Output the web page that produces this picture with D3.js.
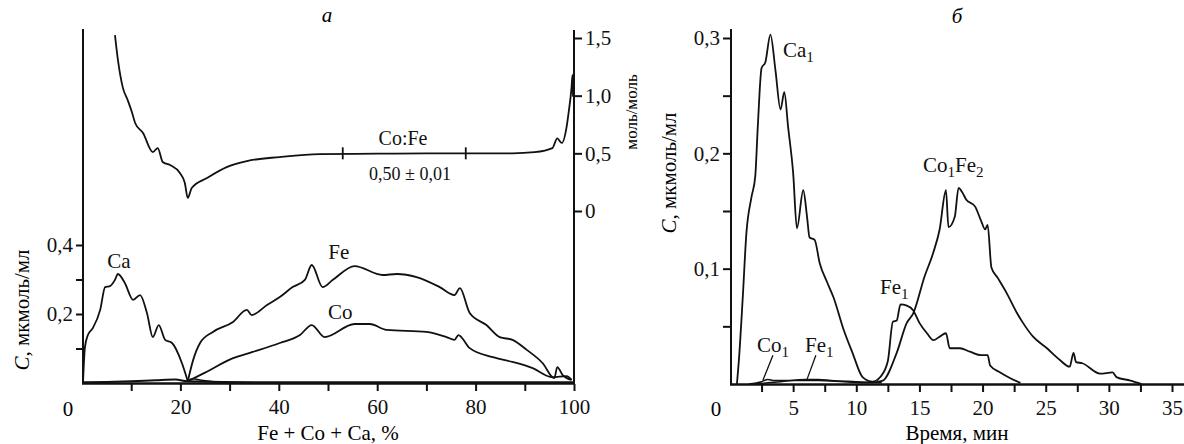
<!DOCTYPE html>
<html>
<head>
<meta charset="utf-8">
<script src="https://cdn.jsdelivr.net/npm/d3@7/dist/d3.min.js"></script>
<style>
  body { margin: 0; background: #fff; }
  svg text { font-family: "Liberation Serif", "Times New Roman", "DejaVu Serif", serif; }
</style>
</head>
<body>
<svg id="chart" width="1184" height="444"></svg>
<script>
// ---- panel a: concentration vs Fe + Co + Ca, % ----
const caA = [[0.2,0],[0.6,0.104],[1.2,0.139],[2.2,0.159],[3.7,0.212],[4.7,0.278],[5.7,0.281],[6.7,0.299],[7.3,0.316],
  [8.7,0.29],[10.4,0.241],[11.8,0.255],[13.2,0.203],[14.4,0.133],[15.6,0.168],[16.9,0.125],[18.3,0.116],[20.3,0.058],[21.5,0.005]];
const caTailA = [[21.5,0.006],[22.5,0.012],[24,0.009],[26,0.005],[28,0.002],[30,0.001]];
const feA = [[21.5,0.005],[22.6,0.067],[24,0.116],[26.6,0.148],[30.7,0.177],[33.5,0.212],[34.5,0.197],[37.6,0.226],[40.2,0.249],
  [42.8,0.278],[45.3,0.299],[46.7,0.342],[48.9,0.278],[51,0.299],[55.4,0.339],[61.1,0.313],[64,0.316],[68,0.307],[72.7,0.278],
  [75.7,0.255],[76.8,0.275],[78.8,0.203],[82.2,0.168],[84.9,0.133],[87.5,0.125],[90.4,0.096],[93.6,0.058],[96,0.014],
  [96.6,0.046],[97.7,0.023],[99.5,0.009]];
const coA = [[21.5,0.005],[25,0.03],[30.7,0.072],[34.7,0.09],[40.2,0.116],[44.3,0.139],[46.7,0.168],[49.3,0.133],[55.4,0.171],
  [58.5,0.171],[61.9,0.154],[70,0.148],[74.1,0.133],[75.7,0.125],[76.5,0.139],[78.8,0.101],[83.5,0.075],[87.5,0.061],
  [91.6,0.043],[95.6,0.017],[98.5,0.02],[99.5,0.009]];
const lowA = [[0.3,0.002],[5,0.003],[10,0.005],[15,0.008],[19,0.01],[21.5,0.005],[40,0.002],[70,0.002],[100,0.002]];
const ratioA = [[6.7,1.525],[7.3,1.31],[8.3,1.07],[9.3,0.96],[10.2,0.85],[10.8,0.763],[12.4,0.676],[14.4,0.511],[15.4,0.546],
  [16.4,0.425],[17.9,0.399],[19.9,0.329],[20.9,0.243],[21.5,0.113],[22.3,0.199],[25.4,0.286],[29.4,0.381],[33.5,0.433],
  [40.2,0.468],[48.3,0.494],[60,0.497],[70,0.5],[78,0.5],[87.5,0.5],[92,0.51],[95.6,0.545],[96.6,0.63],[97.5,0.59],
  [98.5,0.73],[98.9,0.85],[99.5,1.07],[99.7,1.18],[99.8,0.99]];
const ratioMarks = [53, 78];

// ---- panel б: concentration vs time, min ----
const ca1 = [[0.55,0],[0.7,0.02],[1.0,0.073],[1.3,0.131],[1.7,0.162],[2.0,0.18],[2.2,0.223],[2.5,0.274],[2.8,0.279],[3.2,0.303],
  [3.6,0.272],[4.0,0.238],[4.3,0.253],[4.6,0.223],[5.0,0.183],[5.3,0.135],[5.8,0.168],[6.1,0.145],[6.3,0.127],[6.7,0.125],
  [7.1,0.105],[7.7,0.088],[8.2,0.075],[9.0,0.047],[9.7,0.027],[10.5,0.006],[11.3,0.002],[11.6,0.003]];
const fe1 = [[11.6,0.003],[11.9,0.006],[12.5,0.02],[12.9,0.054],[13.2,0.055],[13.5,0.069],[14.0,0.068],[14.5,0.064],[15.0,0.053],
  [15.6,0.044],[16.1,0.038],[16.6,0.041],[17.1,0.044],[17.4,0.031],[18.2,0.031],[19.0,0.028],[19.9,0.025],[20.4,0.025],
  [20.6,0.016],[21.4,0.01],[22.2,0.005],[23.0,0.001]];
const co1fe2 = [[11.6,0.002],[12.1,0.003],[13.2,0.027],[14.0,0.053],[14.5,0.061],[15.4,0.093],[16.1,0.114],[16.6,0.134],[17.1,0.168],
  [17.3,0.136],[17.8,0.145],[18.1,0.17],[18.4,0.166],[18.7,0.16],[19.4,0.154],[19.9,0.141],[20.2,0.134],[20.4,0.138],
  [20.7,0.101],[21.2,0.092],[21.9,0.079],[22.7,0.062],[23.2,0.053],[24.0,0.041],[25.1,0.031],[26.1,0.021],[26.9,0.015],
  [27.2,0.027],[27.4,0.019],[27.9,0.018],[29.3,0.009],[30.3,0.01],[30.6,0.006],[31.7,0.003],[32.6,0]];
const co1Low = [[1.5,0],[2.5,0.002],[3.0,0.004],[3.5,0.003],[5,0.003],[7,0.003],[9,0.002],[11,0.001],[12,0.002]];
const fe1Low = [[2,0],[4,0.002],[6,0.004],[7,0.004],[8,0.003],[10,0.002],[12,0.001]];

const serif = "Liberation Serif, Times New Roman, DejaVu Serif, serif";
const svg = d3.select("#chart").attr("font-family", serif);
const black = "#111";
const fs = 21;

function drawLine(g, data, x, y, w = 1.8) {
  g.append("path")
    .datum(data)
    .attr("d", d3.line().curve(d3.curveMonotoneX).x(d => x(d[0])).y(d => y(d[1])))
    .attr("fill", "none")
    .attr("stroke", black)
    .attr("stroke-width", w)
    .attr("stroke-linejoin", "round");
}

// label with optional subscripts: parts = [[text, isSub], ...]
function subLabel(g, x, y, parts, anchor = "start", size = fs) {
  const t = g.append("text").attr("x", x).attr("y", y).attr("font-size", size)
    .attr("text-anchor", anchor).attr("fill", black);
  let down = false;
  parts.forEach(([s, sub]) => {
    const ts = t.append("tspan").text(s);
    if (sub && !down) { ts.attr("dy", 5).attr("font-size", size * 0.72); down = true; }
    else if (!sub && down) { ts.attr("dy", -5); down = false; }
  });
  return t;
}

// ===== panel a =====
const xA = d3.scaleLinear().domain([0, 100]).range([82, 574]);
const yA = d3.scaleLinear().domain([0, 0.4]).range([383, 245]);
const rA = d3.scaleLinear().domain([0, 1.5]).range([211, 38]);
const gA = svg.append("g");

// frame lines
gA.append("line").attr("x1", 83).attr("x2", 83).attr("y1", 29).attr("y2", 384).attr("stroke", black).attr("stroke-width", 2);
gA.append("line").attr("x1", 574).attr("x2", 574).attr("y1", 30).attr("y2", 384).attr("stroke", black).attr("stroke-width", 2);
gA.append("line").attr("x1", 82).attr("x2", 575).attr("y1", 383.5).attr("y2", 383.5).attr("stroke", black).attr("stroke-width", 2.5);

const xAxisA = gA.append("g").attr("transform", "translate(0,384)")
  .call(d3.axisBottom(xA).tickValues(d3.range(10, 101, 10)).tickSize(7)
    .tickFormat(d => d % 20 === 0 ? d : ""));
const yAxisA = gA.append("g").attr("transform", "translate(83,0)")
  .call(d3.axisLeft(yA).tickValues([0.1, 0.2, 0.3, 0.4]).tickSize(7)
    .tickFormat(d => (Math.round(d * 10) % 2 === 0) ? d3.format(".1f")(d).replace(".", ",") : ""));
const rAxisA = gA.append("g").attr("transform", "translate(574,0)")
  .call(d3.axisRight(rA).tickValues([0, 0.5, 1, 1.5]).tickSize(8)
    .tickFormat(d => d === 0 ? "0" : d3.format(".1f")(d).replace(".", ",")));
gA.append("text").attr("x", 68).attr("y", 416).attr("text-anchor", "middle").attr("font-size", fs).text("0");

// ===== panel б =====
const xB = d3.scaleLinear().domain([0, 35]).range([730, 1172]);
const yB = d3.scaleLinear().domain([0, 0.3]).range([384, 38]);
const gB = svg.append("g");
gB.append("line").attr("x1", 731).attr("x2", 731).attr("y1", 29).attr("y2", 385).attr("stroke", black).attr("stroke-width", 2);
gB.append("line").attr("x1", 730).attr("x2", 1184).attr("y1", 384.5).attr("y2", 384.5).attr("stroke", black).attr("stroke-width", 2.5);
const xAxisB = gB.append("g").attr("transform", "translate(0,385)")
  .call(d3.axisBottom(xB).tickValues(d3.range(2.5, 35.1, 2.5)).tickSize(7)
    .tickFormat(d => d % 5 === 0 ? d : ""));
const yAxisB = gB.append("g").attr("transform", "translate(731,0)")
  .call(d3.axisLeft(yB).tickValues(d3.range(0.05, 0.31, 0.05)).tickSize(8)
    .tickFormat(d => (Math.round(d * 100) % 10 === 0) ? d3.format(".1f")(d).replace(".", ",") : ""));
gB.append("text").attr("x", 716).attr("y", 416).attr("text-anchor", "middle").attr("font-size", fs).text("0");

// common axis styling
[xAxisA, yAxisA, rAxisA, xAxisB, yAxisB].forEach(ax => {
  ax.attr("font-family", serif);
  ax.select(".domain").remove();
  ax.selectAll(".tick line").attr("stroke", black).attr("stroke-width", 2);
  ax.selectAll(".tick text").attr("font-size", fs).attr("fill", black);
});
xAxisA.selectAll(".tick text").attr("dy", "0.95em");
xAxisB.selectAll(".tick text").attr("dy", "0.95em");

// curves panel a
drawLine(gA, lowA, xA, yA, 2);
drawLine(gA, caTailA, xA, yA, 1.5);
drawLine(gA, caA, xA, yA);
drawLine(gA, feA, xA, yA);
drawLine(gA, coA, xA, yA);
drawLine(gA, ratioA, xA, rA);
ratioMarks.forEach(m => {
  gA.append("line").attr("x1", xA(m)).attr("x2", xA(m))
    .attr("y1", rA(0.5) - 6).attr("y2", rA(0.5) + 6)
    .attr("stroke", black).attr("stroke-width", 1.8);
});

// curves panel б
drawLine(gB, co1Low, xB, yB, 1.5);
drawLine(gB, fe1Low, xB, yB, 1.5);
drawLine(gB, ca1, xB, yB);
drawLine(gB, fe1, xB, yB);
drawLine(gB, co1fe2, xB, yB);

// leader lines for small peaks
[[[3.4, 0.025], [2.6, 0.003]], [[6.8, 0.025], [6.1, 0.004]]].forEach(seg => {
  gB.append("line").attr("x1", xB(seg[0][0])).attr("y1", yB(seg[0][1]))
    .attr("x2", xB(seg[1][0])).attr("y2", yB(seg[1][1]))
    .attr("stroke", black).attr("stroke-width", 1.3);
});

// text labels
subLabel(gA, xA(7.5), 268, [["Ca", false]], "middle");
subLabel(gA, xA(52.2), 259, [["Fe", false]], "middle");
subLabel(gA, xA(52.5), 319, [["Co", false]], "middle");
subLabel(gA, 403, 145, [["Co:Fe", false]], "middle", 20);
subLabel(gA, 410, 180, [["0,50 \u00b1 0,01", false]], "middle", 18);

subLabel(gB, 783, 57, [["Ca", false], ["1", true]]);
subLabel(gB, 880, 294, [["Fe", false], ["1", true]]);
subLabel(gB, 923, 172, [["Co", false], ["1", true], ["Fe", false], ["2", true]]);
subLabel(gB, 757, 352, [["Co", false], ["1", true]]);
subLabel(gB, 805, 352, [["Fe", false], ["1", true]]);

// panel titles
svg.append("text").attr("x", 327).attr("y", 22).attr("font-size", fs).attr("font-style", "italic")
  .attr("text-anchor", "middle").text("a");
svg.append("text").attr("x", 957).attr("y", 23).attr("font-size", fs).attr("font-style", "italic")
  .attr("text-anchor", "middle").text("б");

// axis titles
svg.append("text").attr("x", 328).attr("y", 440).attr("font-size", fs).attr("text-anchor", "middle")
  .text("Fe + Co + Ca, %");
svg.append("text").attr("x", 957).attr("y", 440).attr("font-size", fs).attr("text-anchor", "middle")
  .text("Время, мин");

function yTitle(x, y) {
  const t = svg.append("text").attr("transform", `translate(${x},${y}) rotate(-90)`)
    .attr("text-anchor", "middle").attr("font-size", fs);
  t.append("tspan").attr("font-style", "italic").text("C");
  t.append("tspan").text(", мкмоль/мл");
}
yTitle(29, 310);
yTitle(676, 173);

svg.append("text").attr("transform", "translate(637,112) rotate(-90)")
  .attr("text-anchor", "middle").attr("font-size", 17).text("моль/моль");
</script>
</body>
</html>
